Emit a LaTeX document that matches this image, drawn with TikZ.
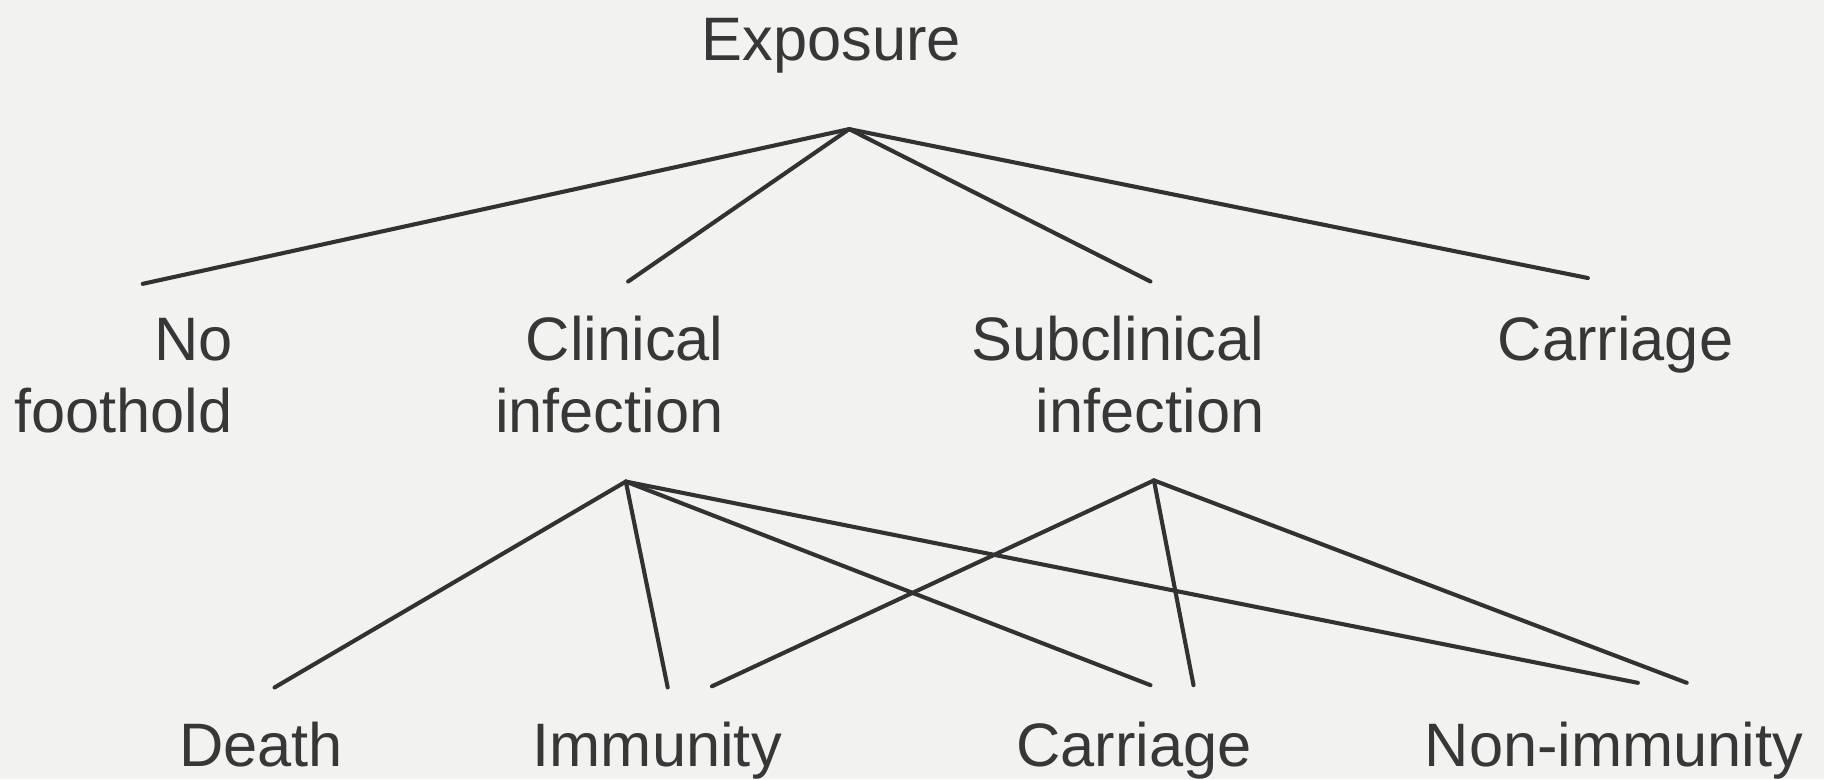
\documentclass[tikz,border=0pt]{standalone}
\usepackage{fontspec}
\setmainfont{Liberation Sans}
\definecolor{paper}{RGB}{242,242,240}
\definecolor{ink}{RGB}{55,55,55}
\definecolor{lineink}{RGB}{50,50,50}
\tikzset{
  lbl/.style={inner sep=0pt, outer sep=0pt, text=ink, font=\fontsize{15}{17.6}\selectfont},
  twoline/.style={lbl, align=right, anchor=north east},
  conn/.style={draw=lineink, line width=1pt, line cap=round}
}
\begin{document}
\begin{tikzpicture}[x=0.01cm, y=-0.01cm]
\fill[paper] (0,0) rectangle (1568,670);
\useasboundingbox (0,0) rectangle (1568,670);

% labels
\node[lbl, anchor=base] (expo) at (714.5,52) {Exposure};
\node[twoline] (nofoot) at (200,274) {No\\foothold};
\node[twoline] (clin) at (622,272) {Clinical\\infection};
\node[twoline] (subc) at (1087,272) {Subclinical\\infection};
\node[lbl, anchor=base east] (carr1) at (1490,310) {Carriage};
\node[lbl, anchor=base] (death) at (224.5,659) {Death};
\node[lbl, anchor=base] (immu) at (565,659) {Immunity};
\node[lbl, anchor=base] (carr2) at (975,659) {Carriage};
\node[lbl, anchor=base] (nonimm) at (1387.5,659) {Non-immunity};

% branch points and line ends
\coordinate (eA) at (730,111);
\coordinate (eNo) at (122.7,244);
\coordinate (eCl) at (540,242);
\coordinate (eSu) at (989,242);
\coordinate (eCa) at (1365,239);
\coordinate (cA) at (538,414);
\coordinate (sA) at (992,413);
\coordinate (cDe) at (236,591);
\coordinate (cIm) at (574,591);
\coordinate (cCa) at (989,589);
\coordinate (cNi) at (1408,587);
\coordinate (sIm) at (612,590);
\coordinate (sCa) at (1026,589);
\coordinate (sNi) at (1450,587);

% connectors
\draw[conn] (eA) -- (eNo);
\draw[conn] (eA) -- (eCl);
\draw[conn] (eA) -- (eSu);
\draw[conn] (eA) -- (eCa);
\draw[conn] (cA) -- (cDe);
\draw[conn] (cA) -- (cIm);
\draw[conn] (cA) -- (cCa);
\draw[conn] (cA) -- (cNi);
\draw[conn] (sA) -- (sIm);
\draw[conn] (sA) -- (sCa);
\draw[conn] (sA) -- (sNi);
\end{tikzpicture}
\end{document}
